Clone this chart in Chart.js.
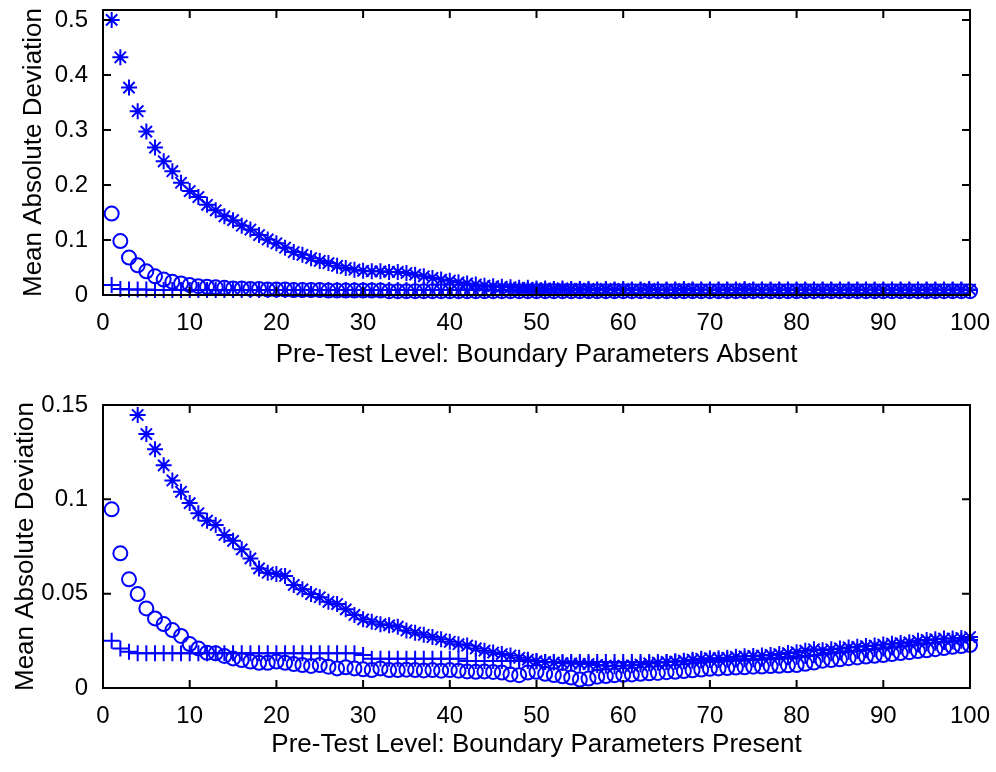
<!DOCTYPE html>
<html>
<head>
<meta charset="utf-8">
<script src="https://cdn.jsdelivr.net/npm/chart.js@4.4.1/dist/chart.umd.min.js"></script>
<style>
  body { margin: 0; background: #fff; }
  .panel { position: absolute; left: 0; width: 996px; height: 386px; }
</style>
</head>
<body>
<div class="panel" style="top:0"><canvas id="absentChart" width="996" height="386"></canvas></div>
<div class="panel" style="top:386px"><canvas id="presentChart" width="996" height="386"></canvas></div>
<script>
// pre-test levels 1..100
const levels = Array.from({ length: 100 }, (_, i) => i + 1);
const xTicks = [0, 10, 20, 30, 40, 50, 60, 70, 80, 90, 100];
const yTicksAbsent = [0, 0.1, 0.2, 0.3, 0.4, 0.5];
const yTicksPresent = [0, 0.05, 0.1, 0.15];

// boundary parameters absent
const absentStar = [
  0.500, 0.432, 0.377, 0.334, 0.297, 0.268, 0.243, 0.225, 0.204, 0.189,
  0.178, 0.164, 0.154, 0.143, 0.136, 0.126, 0.119, 0.109, 0.101, 0.094,
  0.086, 0.078, 0.073, 0.067, 0.062, 0.058, 0.053, 0.049, 0.046, 0.044,
  0.043, 0.043, 0.042, 0.042, 0.040, 0.037, 0.034, 0.031, 0.028, 0.026,
  0.023, 0.021, 0.019, 0.017, 0.016, 0.015, 0.014, 0.013, 0.013, 0.012,
  0.012, 0.011, 0.012, 0.011, 0.011, 0.011, 0.010, 0.011, 0.010, 0.011,
  0.010, 0.010, 0.011, 0.010, 0.010, 0.010, 0.011, 0.010, 0.010, 0.010,
  0.010, 0.010, 0.010, 0.011, 0.010, 0.010, 0.010, 0.010, 0.010, 0.010,
  0.010, 0.010, 0.010, 0.010, 0.010, 0.010, 0.010, 0.010, 0.010, 0.010,
  0.010, 0.010, 0.010, 0.010, 0.010, 0.010, 0.010, 0.010, 0.010, 0.010,
];
const absentCircle = [
  0.148, 0.098, 0.068, 0.054, 0.043, 0.034, 0.028, 0.024, 0.021, 0.018,
  0.016, 0.015, 0.014, 0.013, 0.012, 0.012, 0.011, 0.011, 0.010, 0.010,
  0.010, 0.009, 0.009, 0.009, 0.009, 0.008, 0.008, 0.008, 0.008, 0.008,
  0.008, 0.008, 0.007, 0.007, 0.007, 0.007, 0.007, 0.007, 0.007, 0.007,
  0.007, 0.007, 0.007, 0.007, 0.007, 0.007, 0.007, 0.007, 0.007, 0.007,
  0.007, 0.007, 0.007, 0.007, 0.007, 0.007, 0.007, 0.007, 0.007, 0.007,
  0.007, 0.007, 0.007, 0.007, 0.007, 0.007, 0.007, 0.007, 0.007, 0.007,
  0.007, 0.007, 0.007, 0.007, 0.007, 0.007, 0.007, 0.007, 0.007, 0.007,
  0.007, 0.007, 0.007, 0.007, 0.007, 0.007, 0.007, 0.007, 0.007, 0.007,
  0.007, 0.007, 0.007, 0.007, 0.007, 0.007, 0.007, 0.007, 0.007, 0.007,
];
const absentPlus = [
  0.018, 0.011, 0.010, 0.010, 0.010, 0.009, 0.009, 0.009, 0.009, 0.009,
  0.009, 0.009, 0.009, 0.009, 0.009, 0.009, 0.009, 0.009, 0.009, 0.009,
  0.009, 0.009, 0.009, 0.009, 0.009, 0.009, 0.009, 0.009, 0.009, 0.009,
  0.009, 0.009, 0.009, 0.009, 0.009, 0.009, 0.009, 0.009, 0.009, 0.009,
  0.009, 0.009, 0.009, 0.009, 0.009, 0.009, 0.009, 0.009, 0.009, 0.009,
  0.009, 0.009, 0.009, 0.009, 0.009, 0.009, 0.009, 0.009, 0.009, 0.009,
  0.009, 0.009, 0.009, 0.009, 0.009, 0.009, 0.009, 0.009, 0.009, 0.009,
  0.009, 0.009, 0.009, 0.009, 0.009, 0.009, 0.009, 0.009, 0.009, 0.009,
  0.009, 0.009, 0.009, 0.009, 0.009, 0.009, 0.009, 0.009, 0.009, 0.009,
  0.009, 0.009, 0.009, 0.009, 0.009, 0.009, 0.009, 0.009, 0.009, 0.009,
];

// boundary parameters present (first three stars fall above the axis)
const presentStar = [
  null, null, null, 0.1447, 0.1346, 0.1265, 0.1180, 0.1100, 0.1040, 0.0980,
  0.0926, 0.0887, 0.0864, 0.0811, 0.0780, 0.0735, 0.0687, 0.0634, 0.0611, 0.0604,
  0.0594, 0.0546, 0.0523, 0.0498, 0.0481, 0.0457, 0.0445, 0.0417, 0.0387, 0.0364,
  0.0351, 0.0338, 0.0332, 0.0325, 0.0305, 0.0293, 0.0282, 0.0270, 0.0258, 0.0245,
  0.0232, 0.0225, 0.0210, 0.0198, 0.0188, 0.0180, 0.0172, 0.0160, 0.0150, 0.0142,
  0.0138, 0.0135, 0.0132, 0.0130, 0.0128, 0.0127, 0.0122, 0.0118, 0.0115, 0.0118,
  0.0120, 0.0124, 0.0130, 0.0134, 0.0138, 0.0140, 0.0145, 0.0150, 0.0155, 0.0158,
  0.0158, 0.0160, 0.0165, 0.0168, 0.0170, 0.0172, 0.0175, 0.0180, 0.0185, 0.0190,
  0.0198, 0.0205, 0.0200, 0.0205, 0.0210, 0.0215, 0.0218, 0.0222, 0.0225, 0.0230,
  0.0235, 0.0238, 0.0242, 0.0250, 0.0255, 0.0258, 0.0262, 0.0262, 0.0265, 0.0270,
];
const presentCircle = [
  0.0947, 0.0714, 0.0576, 0.0498, 0.0422, 0.0369, 0.0339, 0.0307, 0.0276, 0.0233,
  0.0210, 0.0187, 0.0184, 0.0170, 0.0157, 0.0148, 0.0140, 0.0134, 0.0134, 0.0140,
  0.0134, 0.0127, 0.0122, 0.0117, 0.0122, 0.0113, 0.0104, 0.0110, 0.0104, 0.0099,
  0.0095, 0.0104, 0.0095, 0.0095, 0.0097, 0.0095, 0.0093, 0.0095, 0.0092, 0.0095,
  0.0092, 0.0088, 0.0086, 0.0088, 0.0085, 0.0082, 0.0072, 0.0068, 0.0082, 0.0086,
  0.0075, 0.0069, 0.0062, 0.0055, 0.0045, 0.0050, 0.0060, 0.0063, 0.0068, 0.0070,
  0.0072, 0.0075, 0.0078, 0.0080, 0.0084, 0.0086, 0.0090, 0.0094, 0.0098, 0.0102,
  0.0104, 0.0106, 0.0108, 0.0110, 0.0113, 0.0114, 0.0116, 0.0118, 0.0120, 0.0122,
  0.0128, 0.0135, 0.0145, 0.0148, 0.0152, 0.0158, 0.0162, 0.0167, 0.0171, 0.0175,
  0.0180, 0.0185, 0.0190, 0.0196, 0.0200, 0.0206, 0.0212, 0.0218, 0.0222, 0.0228,
];
const presentPlus = [
  0.0251, 0.0210, 0.0192, 0.0184, 0.0184, 0.0184, 0.0184, 0.0184, 0.0184, 0.0184,
  0.0184, 0.0184, 0.0184, 0.0184, 0.0184, 0.0184, 0.0184, 0.0184, 0.0184, 0.0184,
  0.0184, 0.0184, 0.0184, 0.0184, 0.0184, 0.0184, 0.0184, 0.0184, 0.0184, 0.0175,
  0.0155, 0.0155, 0.0155, 0.0155, 0.0155, 0.0155, 0.0155, 0.0155, 0.0155, 0.0155,
  0.0155, 0.0143, 0.0143, 0.0143, 0.0143, 0.0143, 0.0143, 0.0143, 0.0143, 0.0143,
  0.0138, 0.0138, 0.0138, 0.0138, 0.0138, 0.0138, 0.0138, 0.0138, 0.0138, 0.0138,
  0.0138, 0.0138, 0.0138, 0.0138, 0.0138, 0.0140, 0.0142, 0.0144, 0.0146, 0.0148,
  0.0149, 0.0150, 0.0151, 0.0152, 0.0153, 0.0155, 0.0158, 0.0160, 0.0163, 0.0166,
  0.0170, 0.0174, 0.0178, 0.0184, 0.0188, 0.0192, 0.0196, 0.0200, 0.0205, 0.0210,
  0.0215, 0.0220, 0.0225, 0.0230, 0.0236, 0.0240, 0.0244, 0.0247, 0.0250, 0.0254,
];

const blue = "#0000ff";
const family = "'Liberation Sans', Arial, sans-serif";
const tickFont = { family, size: 24 };
const titleFont = { family, size: 26 };

const toPoints = (values) => levels.map((x, i) => ({ x, y: values[i] }));

const markerSet = (values, style) => ({
  data: toPoints(values),
  pointStyle: style,
  pointRadius: style === "circle" ? 7 : 8,
  pointBorderWidth: 2,
  borderColor: blue,
  backgroundColor: "rgba(0,0,0,0)",
  showLine: false,
  clip: false,
});

// MATLAB style box with inward ticks on all four sides
const boxPlugin = {
  id: "matlabBox",
  afterDatasetsDraw(chart) {
    const { ctx, chartArea: a, scales } = chart;
    const len = 8;
    ctx.save();
    ctx.strokeStyle = "#000";
    ctx.lineWidth = 2;
    ctx.beginPath();
    scales.x.ticks.forEach((t) => {
      const px = scales.x.getPixelForValue(t.value);
      ctx.moveTo(px, a.bottom);
      ctx.lineTo(px, a.bottom - len);
      ctx.moveTo(px, a.top);
      ctx.lineTo(px, a.top + len);
    });
    scales.y.ticks.forEach((t) => {
      const py = scales.y.getPixelForValue(t.value);
      ctx.moveTo(a.left, py);
      ctx.lineTo(a.left + len, py);
      ctx.moveTo(a.right, py);
      ctx.lineTo(a.right - len, py);
    });
    ctx.stroke();
    ctx.strokeRect(a.left, a.top, a.right - a.left, a.bottom - a.top);
    ctx.restore();
  },
};

const makeChart = (canvasId, cfg) =>
  new Chart(document.getElementById(canvasId), {
    type: "scatter",
    data: {
      datasets: [
        markerSet(cfg.star, "star"),
        markerSet(cfg.circle, "circle"),
        markerSet(cfg.plus, "cross"),
      ],
    },
    plugins: [boxPlugin],
    options: {
      responsive: false,
      animation: false,
      events: [],
      layout: { padding: { left: cfg.padLeft, right: 26, top: cfg.padTop, bottom: cfg.padBottom } },
      plugins: { legend: { display: false }, tooltip: { enabled: false } },
      scales: {
        x: {
          type: "linear",
          min: 0,
          max: 100,
          afterBuildTicks: (s) => { s.ticks = xTicks.map((value) => ({ value })); },
          afterFit: (s) => {
            s.height = cfg.xHeight;
            s.paddingLeft = 0;
            s.paddingRight = 0;
          },
          grid: { display: false, drawTicks: false },
          border: { display: false },
          ticks: { color: "#000", font: tickFont, padding: 14, maxRotation: 0, autoSkip: false, callback: (v) => String(v) },
          title: { display: true, text: cfg.xTitle, color: "#000", font: titleFont, padding: 0 },
        },
        y: {
          type: "linear",
          min: 0,
          max: cfg.yMax,
          afterBuildTicks: (s) => { s.ticks = cfg.yTicks.map((value) => ({ value })); },
          afterFit: (s) => {
            s.width = 103 - cfg.padLeft;
            s.paddingTop = 0;
            s.paddingBottom = 0;
          },
          grid: { display: false, drawTicks: false },
          border: { display: false },
          ticks: { color: "#000", font: tickFont, padding: 15, autoSkip: false, callback: (v) => String(v) },
          title: { display: true, text: "Mean Absolute Deviation", color: "#000", font: titleFont, padding: 0 },
        },
      },
    },
  });

makeChart("absentChart", {
  star: absentStar,
  circle: absentCircle,
  plus: absentPlus,
  yMax: 0.518,
  yTicks: yTicksAbsent,
  xTitle: "Pre-Test Level: Boundary Parameters Absent",
  padLeft: 18,
  padTop: 9,
  padBottom: 16,
  xHeight: 75,
});

makeChart("presentChart", {
  star: presentStar,
  circle: presentCircle,
  plus: presentPlus,
  yMax: 0.15,
  yTicks: yTicksPresent,
  xTitle: "Pre-Test Level: Boundary Parameters Present",
  padLeft: 10,
  padTop: 19,
  padBottom: 12,
  xHeight: 72,
});
</script>
</body>
</html>
